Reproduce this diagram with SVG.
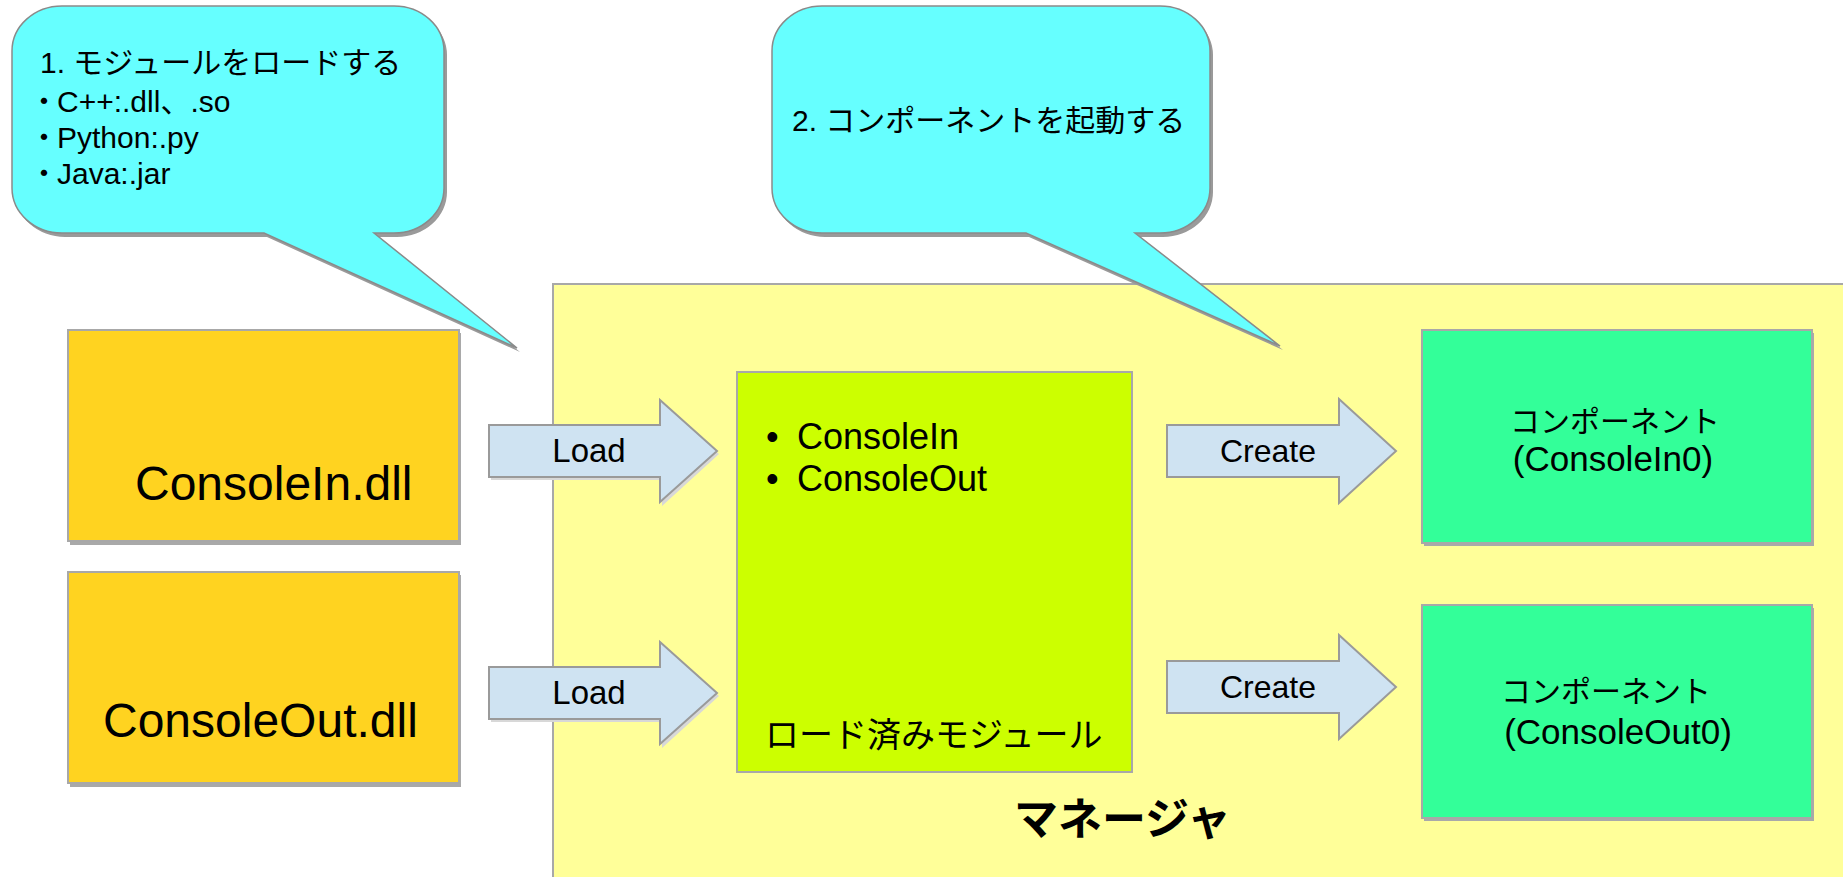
<svg xmlns="http://www.w3.org/2000/svg" width="1843" height="877" viewBox="0 0 1843 877">
<style>
text{font-family:"Liberation Sans","Noto Sans CJK JP",sans-serif;fill:#000}
.box{stroke:#a8a8a8;stroke-width:2}
.shadow{fill:#a9a9a9}
.callout{fill:#66ffff;stroke:#8a8a8a;stroke-width:1.5}
.cshadow{fill:#9a9a9a}
.arrow{fill:#cfe3f2;stroke:#9a9a9a;stroke-width:2}
.ashadow{fill:#d8d8d8}
.lbl{font-size:32px;text-anchor:middle}
.comp{font-size:35px;text-anchor:middle}
.compj{font-size:30px;text-anchor:middle}
.co{font-size:30px}
</style>
<rect width="1843" height="877" fill="#ffffff"/>
<g id="manager">
<rect x="553" y="284" width="1300" height="610" fill="#ffff99" stroke="#a8a8a8" stroke-width="2"/>
<text x="1014" y="835" style="font-size:44px;font-weight:bold">マネージャ</text>
</g>
<g id="consolein-dll">
<rect class="shadow" x="70" y="333" width="391" height="212"/>
<rect class="box" x="68" y="330" width="391" height="211" fill="#ffd320"/>
<text x="135" y="500" style="font-size:48px">ConsoleIn.dll</text>
</g>
<g id="consoleout-dll">
<rect class="shadow" x="70" y="575" width="391" height="212"/>
<rect class="box" x="68" y="572" width="391" height="211" fill="#ffd320"/>
<text x="103" y="737" style="font-size:48px">ConsoleOut.dll</text>
</g>
<g id="loaded-modules">
<rect class="box" x="737" y="372" width="395" height="400" fill="#ccff00"/>
<text x="766" y="449" style="font-size:36px">•</text>
<text x="797" y="449" style="font-size:36px">ConsoleIn</text>
<text x="766" y="491" style="font-size:36px">•</text>
<text x="797" y="491" style="font-size:36px">ConsoleOut</text>
<text x="765" y="747" style="font-size:34px">ロード済みモジュール</text>
</g>
<g id="component-in">
<rect class="shadow" x="1424" y="333" width="390" height="213"/>
<rect class="box" x="1422" y="330" width="390" height="213" fill="#33ff99"/>
<text class="compj" x="1615" y="432">コンポーネント</text>
<text class="comp" x="1613" y="471">(ConsoleIn0)</text>
</g>
<g id="component-out">
<rect class="shadow" x="1424" y="608" width="390" height="213"/>
<rect class="box" x="1422" y="605" width="390" height="213" fill="#33ff99"/>
<text class="compj" x="1606" y="702">コンポーネント</text>
<text class="comp" x="1618" y="744">(ConsoleOut0)</text>
</g>
<g id="connectors">
<g id="load-in">
<path class="ashadow" d="M491,428 H662 V403 L719,454 L662,506 V480 H491 Z"/>
<path class="arrow" d="M489,425 H660 V400 L717,451 L660,502 V477 H489 Z"/>
<text class="lbl" x="589" y="462" style="font-size:33px">Load</text>
</g>
<g id="load-out">
<path class="ashadow" d="M491,670 H662 V645 L719,696 L662,748 V722 H491 Z"/>
<path class="arrow" d="M489,667 H660 V642 L717,693 L660,744 V719 H489 Z"/>
<text class="lbl" x="589" y="704" style="font-size:33px">Load</text>
</g>
<g id="create-in">
<path class="arrow" d="M1167,425 H1339 V399 L1396,451 L1339,503 V477 H1167 Z"/>
<text class="lbl" x="1268" y="462">Create</text>
</g>
<g id="create-out">
<path class="arrow" d="M1167,661 H1339 V635 L1396,687 L1339,739 V713 H1167 Z"/>
<text class="lbl" x="1268" y="698">Create</text>
</g>
</g>
<g id="callout-load">
<path class="cshadow" transform="translate(3,4)" d="M62,6 H394 A50,45 0 0 1 444,51 V188 A50,45 0 0 1 394,233 H374 L517,348 L264,233 H62 A50,45 0 0 1 12,188 V51 A50,45 0 0 1 62,6 Z"/>
<path class="callout" d="M62,6 H394 A50,45 0 0 1 444,51 V188 A50,45 0 0 1 394,233 H374 L517,348 L264,233 H62 A50,45 0 0 1 12,188 V51 A50,45 0 0 1 62,6 Z"/>
<text class="co" x="40" y="73">1. モジュールをロードする</text>
<text class="co" x="29" y="112">・<tspan dx="-2">C++:.dll、.so</tspan></text>
<text class="co" x="29" y="148">・<tspan dx="-2">Python:.py</tspan></text>
<text class="co" x="29" y="184">・<tspan dx="-2">Java:.jar</tspan></text>
</g>
<g id="callout-create">
<path class="cshadow" transform="translate(3,4)" d="M822,6 H1160 A50,45 0 0 1 1210,51 V188 A50,45 0 0 1 1160,233 H1135 L1280,346 L1026,233 H822 A50,45 0 0 1 772,188 V51 A50,45 0 0 1 822,6 Z"/>
<path class="callout" d="M822,6 H1160 A50,45 0 0 1 1210,51 V188 A50,45 0 0 1 1160,233 H1135 L1280,346 L1026,233 H822 A50,45 0 0 1 772,188 V51 A50,45 0 0 1 822,6 Z"/>
<text class="co" x="792" y="131">2. コンポーネントを起動する</text>
</g>
</svg>
